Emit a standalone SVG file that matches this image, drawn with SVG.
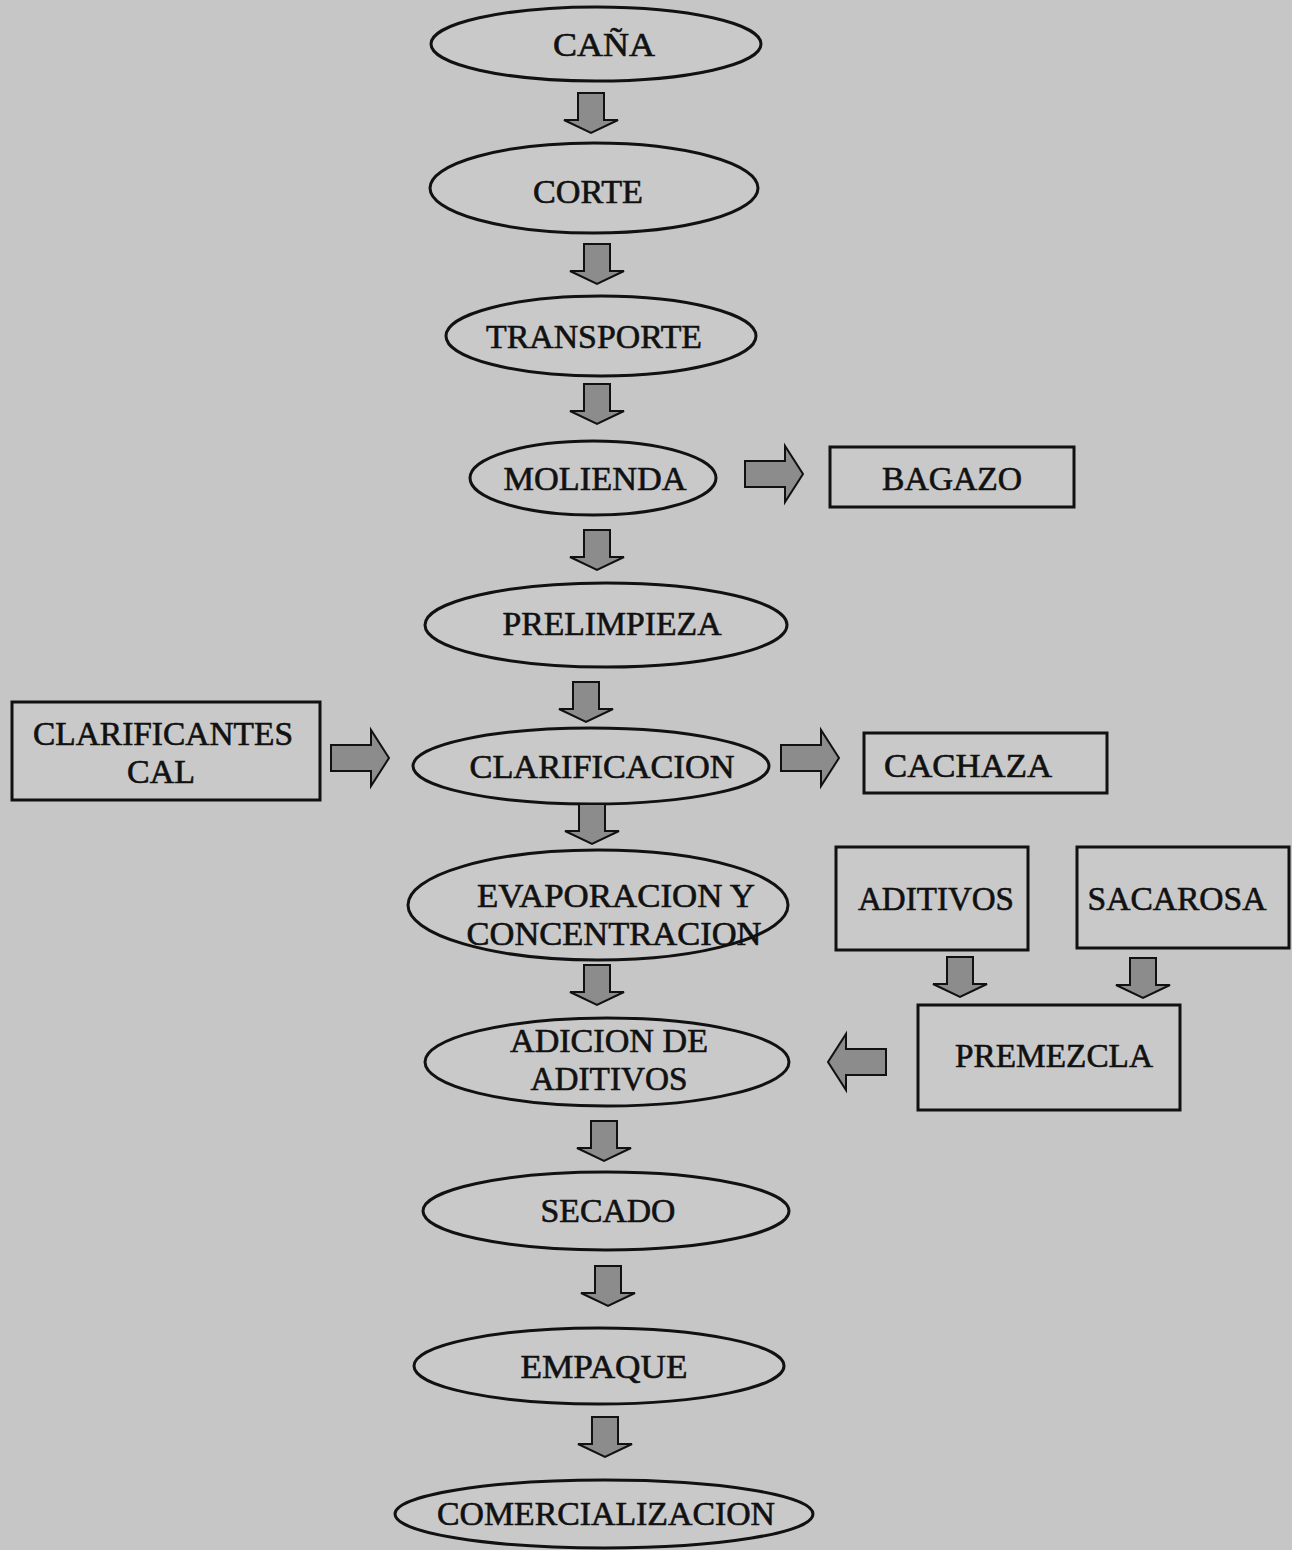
<svg xmlns="http://www.w3.org/2000/svg" width="1292" height="1550" viewBox="0 0 1292 1550">
  <style>
    .bg { fill: #c6c6c6; }
    .node { fill: #c9c9c9; stroke: #111; stroke-width: 3; }
    .arrow { fill: #8c8c8c; stroke: #111; stroke-width: 2; stroke-linejoin: miter; }
    text { font-family: "Liberation Serif", "DejaVu Serif", serif; font-size: 33px; fill: #111; stroke: #111; stroke-width: 0.6; text-anchor: middle; }
  </style>
  <defs>
    <!-- block arrow pointing down, origin at top centre -->
    <path id="down" d="M -13 0 L 13 0 L 13 27 L 27 27 L 0 40 L -27 27 L -13 27 Z"/>
    <!-- block arrow pointing right, origin at left middle -->
    <path id="right" d="M 0 -13 L 40 -13 L 40 -28 L 58 0 L 40 28 L 40 13 L 0 13 Z"/>
  </defs>

  <rect class="bg" x="0" y="0" width="1292" height="1550"/>

  <g id="n-cana">
    <ellipse class="node" cx="596" cy="44" rx="165" ry="37"/>
    <text x="604" y="56" textLength="102" lengthAdjust="spacingAndGlyphs">CAÑA</text>
  </g>
  <g id="n-corte">
    <ellipse class="node" cx="594" cy="188" rx="164" ry="45"/>
    <text x="588" y="203" textLength="110" lengthAdjust="spacingAndGlyphs">CORTE</text>
  </g>
  <g id="n-transporte">
    <ellipse class="node" cx="601" cy="336" rx="155" ry="40"/>
    <text x="594" y="348" textLength="216" lengthAdjust="spacingAndGlyphs">TRANSPORTE</text>
  </g>
  <g id="n-molienda">
    <ellipse class="node" cx="593" cy="478" rx="123" ry="37"/>
    <text x="595" y="490" textLength="183" lengthAdjust="spacingAndGlyphs">MOLIENDA</text>
  </g>
  <g id="n-bagazo">
    <rect class="node" x="830" y="447" width="244" height="60"/>
    <text x="952" y="490" textLength="140" lengthAdjust="spacingAndGlyphs">BAGAZO</text>
  </g>
  <g id="n-prelimpieza">
    <ellipse class="node" cx="606" cy="625" rx="181" ry="42"/>
    <text x="612" y="635" textLength="219" lengthAdjust="spacingAndGlyphs">PRELIMPIEZA</text>
  </g>
  <g id="n-clarificantes">
    <rect class="node" x="12" y="702" width="308" height="98"/>
    <text x="163" y="745" textLength="260" lengthAdjust="spacingAndGlyphs">CLARIFICANTES</text>
    <text x="161" y="783" textLength="68" lengthAdjust="spacingAndGlyphs">CAL</text>
  </g>
  <g id="n-clarificacion">
    <ellipse class="node" cx="591" cy="766" rx="178" ry="38"/>
    <text x="602" y="778" textLength="265" lengthAdjust="spacingAndGlyphs">CLARIFICACION</text>
  </g>
  <g id="n-cachaza">
    <rect class="node" x="864" y="733" width="243" height="60"/>
    <text x="968" y="777" textLength="168" lengthAdjust="spacingAndGlyphs">CACHAZA</text>
  </g>
  <g id="n-evaporacion">
    <ellipse class="node" cx="598" cy="905" rx="190" ry="55"/>
    <text x="616" y="907" textLength="278" lengthAdjust="spacingAndGlyphs">EVAPORACION Y</text>
    <text x="614" y="945" textLength="295" lengthAdjust="spacingAndGlyphs">CONCENTRACION</text>
  </g>
  <g id="n-aditivos">
    <rect class="node" x="836" y="847" width="192" height="103"/>
    <text x="936" y="910" textLength="156" lengthAdjust="spacingAndGlyphs">ADITIVOS</text>
  </g>
  <g id="n-sacarosa">
    <rect class="node" x="1077" y="847" width="212" height="101"/>
    <text x="1177" y="910" textLength="179" lengthAdjust="spacingAndGlyphs">SACAROSA</text>
  </g>
  <g id="n-adicion">
    <ellipse class="node" cx="607" cy="1062" rx="182" ry="44"/>
    <text x="609" y="1052" textLength="198" lengthAdjust="spacingAndGlyphs">ADICION DE</text>
    <text x="609" y="1090" textLength="157" lengthAdjust="spacingAndGlyphs">ADITIVOS</text>
  </g>
  <g id="n-premezcla">
    <rect class="node" x="918" y="1005" width="262" height="105"/>
    <text x="1054" y="1067" textLength="198" lengthAdjust="spacingAndGlyphs">PREMEZCLA</text>
  </g>
  <g id="n-secado">
    <ellipse class="node" cx="606" cy="1211" rx="183" ry="39"/>
    <text x="608" y="1222" textLength="135" lengthAdjust="spacingAndGlyphs">SECADO</text>
  </g>
  <g id="n-empaque">
    <ellipse class="node" cx="599" cy="1366" rx="185" ry="38"/>
    <text x="604" y="1378" textLength="167" lengthAdjust="spacingAndGlyphs">EMPAQUE</text>
  </g>
  <g id="n-comercializacion">
    <ellipse class="node" cx="604" cy="1514" rx="209" ry="34"/>
    <text x="606" y="1525" textLength="338" lengthAdjust="spacingAndGlyphs">COMERCIALIZACION</text>
  </g>

  <g id="connectors" class="arrow">
    <use href="#down" x="591" y="93"/>
    <use href="#down" x="597" y="244"/>
    <use href="#down" x="597" y="384"/>
    <use href="#down" x="597" y="530"/>
    <use href="#down" x="586" y="682"/>
    <use href="#down" x="592" y="804"/>
    <use href="#down" x="597" y="965"/>
    <use href="#down" x="960" y="957"/>
    <use href="#down" x="1143" y="958"/>
    <use href="#down" x="604" y="1121"/>
    <use href="#down" x="608" y="1266"/>
    <use href="#down" x="605" y="1417"/>
    <use href="#right" x="745" y="474"/>
    <use href="#right" x="331" y="758"/>
    <use href="#right" x="781" y="758"/>
    <use href="#right" transform="translate(886 1062) scale(-1 1)"/>
  </g>
</svg>
